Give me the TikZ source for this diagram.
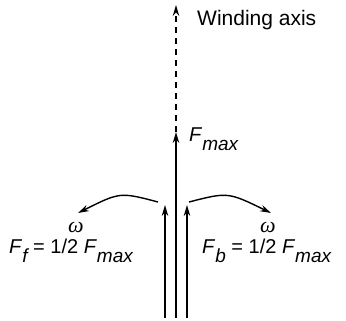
\documentclass[tikz,border=0pt]{standalone}
\usepackage{fontspec}
\setmainfont{Liberation Sans}
\newfontfamily\greekfont{Liberation Serif}
\usetikzlibrary{arrows.meta}
\newcommand{\Fsub}[1]{\textit{F}\raisebox{-9pt}{\fontsize{19}{19}\selectfont\itshape #1}}
\newcommand{\omg}{{\greekfont\itshape ω}}
\begin{document}
\begin{tikzpicture}[x=1pt,y=-1pt,
    vec/.style={line width=1.4pt,-{Stealth[length=11pt,width=6.5pt]}},
    lbl/.style={font=\fontsize{20}{22}\selectfont,inner sep=0pt}]
  \useasboundingbox (0,0) rectangle (346,321);
  % winding axis
  \coordinate (base) at (176,318);
  \coordinate (fmax) at (176,132);
  \coordinate (axtop) at (176,5);
  \draw[vec] (base) -- (fmax);
  \draw[vec,dash pattern=on 6pt off 5pt] (fmax) -- (axtop);
  \node[lbl,font=\fontsize{21}{23}\selectfont,anchor=base west] (wind) at (197,26) {Winding axis};
  \node[lbl,anchor=base west] (fmaxlbl) at (189,142) {\Fsub{max}};
  % the two halves
  \coordinate (lbase) at (165,318);
  \coordinate (ltip) at (165,205);
  \coordinate (rbase) at (187,318);
  \coordinate (rtip) at (187,205);
  \draw[vec] (lbase) -- (ltip);
  \draw[vec] (rbase) -- (rtip);
  % rotation
  \coordinate (lstart) at (158,202);
  \coordinate (lend) at (78,213);
  \coordinate (rstart) at (189,202);
  \coordinate (rend) at (271,213);
  \draw[vec] (lstart) .. controls (120,192) .. (lend);
  \draw[vec] (rstart) .. controls (228,192) .. (rend);
  \node[lbl,font=\fontsize{22}{24}\selectfont] (wl) at (76,227) {\omg};
  \node[lbl,font=\fontsize{22}{24}\selectfont] (wr) at (268,227) {\omg};
  \node[lbl,anchor=base west] (ff) at (9,254) {\Fsub{f} = 1/2 \Fsub{max}};
  \node[lbl,anchor=base west] (fb) at (202,254) {\Fsub{b} = 1/2 \Fsub{max}};
\end{tikzpicture}
\end{document}
